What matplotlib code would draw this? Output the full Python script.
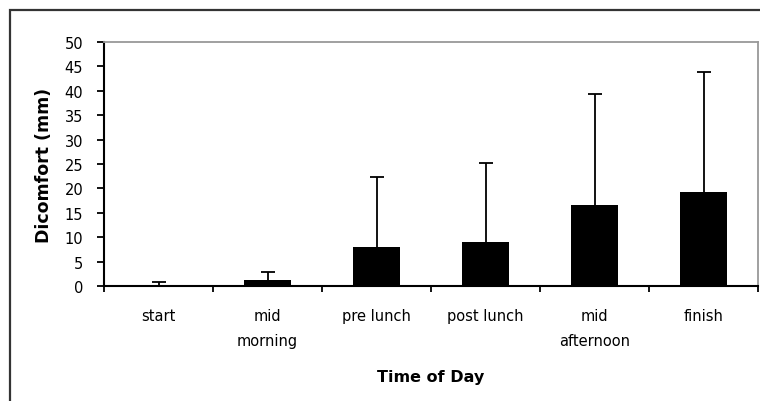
import matplotlib.pyplot as plt
import matplotlib.patches as patches
import numpy as np

plt.rcParams['font.family'] = ['DejaVu Sans']

times = ['start', 'mid\nmorning', 'pre lunch', 'post lunch', 'mid\nafternoon', 'finish']
discomfort = [0.1, 1.3, 7.9, 9.1, 16.5, 19.3]
sd_upper = [0.65, 1.6, 14.4, 16.2, 22.8, 24.6]


def main():
	fig = plt.figure(figsize=(7.6, 4.02), dpi=100)

	# outer chart border, runs off the right and bottom edge
	border = patches.Rectangle((10 / 760, -0.05), 1.0, (391 / 402) + 0.05,
		transform=fig.transFigure, fill=False, edgecolor='#333333', linewidth=1.6)
	fig.patches.append(border)

	ax = fig.add_axes([104 / 760, 115 / 402, 654 / 760, 244 / 402])

	x = np.arange(len(times))
	ax.bar(x, discomfort, width=0.43, color='black', zorder=3)
	_, caps, _ = ax.errorbar(x, discomfort, yerr=[np.zeros(len(x)), sd_upper], fmt='none',
		ecolor='black', elinewidth=1.3, capsize=5, capthick=1.3, zorder=2)
	# only the upper half of the error bar is shown
	caps[0].set_visible(False)

	ax.set_xlim(-0.5, len(times) - 0.5)
	ax.set_ylim(0, 50)
	ax.set_yticks(np.arange(0, 51, 5))

	# category labels sit between the tick marks
	ax.set_xticks(np.arange(-0.5, len(times), 1.0))
	ax.set_xticklabels([])
	ax.set_xticks(x, minor=True)
	ax.set_xticklabels(times, minor=True, fontsize=10.5, linespacing=1.85)
	ax.tick_params(axis='x', which='minor', length=0, pad=16)
	ax.tick_params(axis='x', which='major', length=4.5, width=1.3, direction='out')
	ax.tick_params(axis='y', length=5, width=1.3, direction='out', labelsize=10.5, pad=10)

	for side in ['top', 'right']:
		ax.spines[side].set_color('#999999')
		ax.spines[side].set_linewidth(1.3)
	for side in ['left', 'bottom']:
		ax.spines[side].set_color('black')
		ax.spines[side].set_linewidth(1.5)

	ax.set_xlabel('Time of Day', fontsize=11.5, fontweight='bold', labelpad=15)
	ax.set_ylabel('Dicomfort (mm)', fontsize=12.5, fontweight='bold', labelpad=8)

	fig.savefig('out.png', dpi=100)


if __name__ == '__main__':
	main()
